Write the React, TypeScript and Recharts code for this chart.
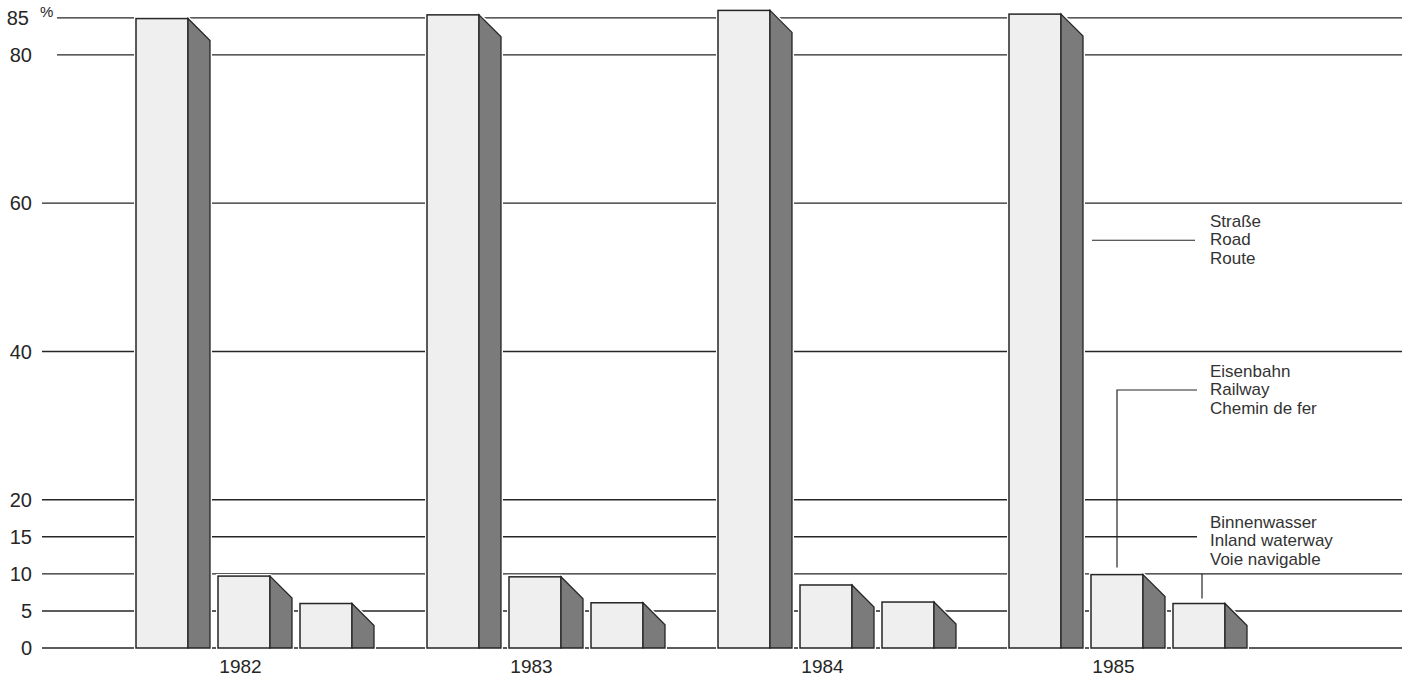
import React from 'react';
import { BarChart, Bar, XAxis, YAxis, CartesianGrid } from 'recharts';

const years = ['1982', '1983', '1984', '1985'];
const road = [84.9, 85.4, 86.0, 85.5];
const railway = [9.7, 9.6, 8.5, 9.9];
const waterway = [6.0, 6.1, 6.2, 6.0];
const yTicks = [0, 5, 10, 15, 20, 40, 60, 80, 85];

const roadLabel = ['Straße', 'Road', 'Route'];
const railLabel = ['Eisenbahn', 'Railway', 'Chemin de fer'];
const waterLabel = ['Binnenwasser', 'Inland waterway', 'Voie navigable'];

const data = years.map((year, i) => ({
    year,
    road: road[i],
    railway: railway[i],
    waterway: waterway[i],
}));

const FONT = '"Liberation Sans", Arial, Helvetica, sans-serif';
const INK = '#262626';
const FRONT = 52;
const SIDE = 22;
const DROP = 22;
const LABEL_X = 1210;

// 3d block: light front face + dark slanted side face
const Block = ({ x, y, height }: any) => {
    const fx = x + FRONT;
    const sx = fx + SIDE;
    const bottom = y + height;
    const outline = `${x},${y} ${fx},${y} ${sx},${y + DROP} ${sx},${bottom} ${x},${bottom}`;
    const side = `${fx},${y} ${sx},${y + DROP} ${sx},${bottom} ${fx},${bottom}`;
    return (
        <g>
            <polygon points={outline} fill="#fff" stroke="#fff" strokeWidth={4} strokeLinejoin="miter" />
            <rect x={x} y={y} width={FRONT} height={height} fill="#efefef" stroke={INK} strokeWidth={1.5} />
            <polygon points={side} fill="#7b7b7b" stroke={INK} strokeWidth={1.3} />
        </g>
    );
};

const Caption = ({ y, lines }: { y: number; lines: string[] }) => (
    <text fontSize={17} fill="#333" fontFamily={FONT}>
        {lines.map((t, i) => (
            <tspan key={t} x={LABEL_X} y={y + 5 + (i - 1) * 18.5}>
                {t}
            </tspan>
        ))}
    </text>
);

const roadShape = (props: any) => {
    const { x, y, height, index, payload } = props;
    const last = index === years.length - 1;
    const unit = height / payload.road;
    const base = y + height;
    const ly = base - 55 * unit;
    return (
        <g>
            <Block x={x} y={y} height={height} />
            {last && (
                <g>
                    <line x1={x + FRONT + SIDE + 9} x2={LABEL_X - 15} y1={ly} y2={ly} stroke={INK} strokeWidth={1.2} />
                    <Caption y={ly} lines={roadLabel} />
                </g>
            )}
        </g>
    );
};

const railShape = (props: any) => {
    const { x, y, height, index, payload } = props;
    const last = index === years.length - 1;
    const unit = height / payload.railway;
    const base = y + height;
    const ly = base - 34.8 * unit;
    const lx = x + FRONT / 2;
    return (
        <g>
            <Block x={x} y={y} height={height} />
            {last && (
                <g>
                    <polyline
                        points={`${lx},${y - 7} ${lx},${ly} ${LABEL_X - 13},${ly}`}
                        fill="none"
                        stroke={INK}
                        strokeWidth={1.2}
                    />
                    <Caption y={ly} lines={railLabel} />
                </g>
            )}
        </g>
    );
};

const waterShape = (props: any) => {
    const { x, y, height, index, payload } = props;
    const last = index === years.length - 1;
    const unit = height / payload.waterway;
    const base = y + height;
    const lx = x + FRONT / 2 + 3;
    return (
        <g>
            <Block x={x} y={y} height={height} />
            {last && (
                <g>
                    <line x1={lx} x2={lx} y1={y - 5} y2={base - 10 * unit} stroke={INK} strokeWidth={1.2} />
                    <Caption y={base - 14.4 * unit} lines={waterLabel} />
                </g>
            )}
        </g>
    );
};

const gridLine = (props: any) => {
    const { index, x1, x2, y1, y2 } = props;
    const v = yTicks[index];
    if (v === undefined) return <g key={`h-${index}`} />;
    const start = v >= 80 ? x1 + 17 : x1 + 2;
    const end = v === 15 ? LABEL_X - 13 : x2;
    return <line key={`h-${index}`} x1={start} x2={end} y1={y1} y2={y2} stroke={INK} strokeWidth={1.4} />;
};

const YTick = ({ x, y, payload }: any) => (
    <g fontFamily={FONT} fill={INK}>
        <text x={payload.value === 85 ? x - 3 : x} y={y} dy="0.36em" textAnchor="end" fontSize={20}>
            {payload.value}
        </text>
        {payload.value === 85 && (
            <text x={x + 8} y={y - 1} fontSize={15}>
                %
            </text>
        )}
    </g>
);

const XTick = ({ x, y, payload }: any) => (
    <text x={x - 17} y={y + 17} textAnchor="middle" fontSize={19} fontFamily={FONT} fill={INK}>
        {payload.value}
    </text>
);

const App = () => {
    return (
        <div style={{ position: 'absolute', left: 0, top: 0, background: '#fff' }}>
            <BarChart width={1410} height={679} data={data} margin={{ top: 3, right: 8, bottom: 0, left: 0 }} barGap={2}>
                <CartesianGrid vertical={false} horizontal={gridLine} />
                <XAxis
                    dataKey="year"
                    height={31}
                    padding={{ left: 72, right: 126 }}
                    axisLine={false}
                    tickLine={false}
                    interval={0}
                    tick={<XTick />}
                />
                <YAxis
                    type="number"
                    domain={[0, 87]}
                    ticks={yTicks}
                    width={40}
                    axisLine={false}
                    tickLine={false}
                    interval={0}
                    tick={<YTick />}
                />
                <Bar dataKey="road" barSize={80} shape={roadShape} isAnimationActive={false} />
                <Bar dataKey="railway" barSize={80} shape={railShape} isAnimationActive={false} />
                <Bar dataKey="waterway" barSize={80} shape={waterShape} isAnimationActive={false} />
            </BarChart>
        </div>
    );
};

export default App;
